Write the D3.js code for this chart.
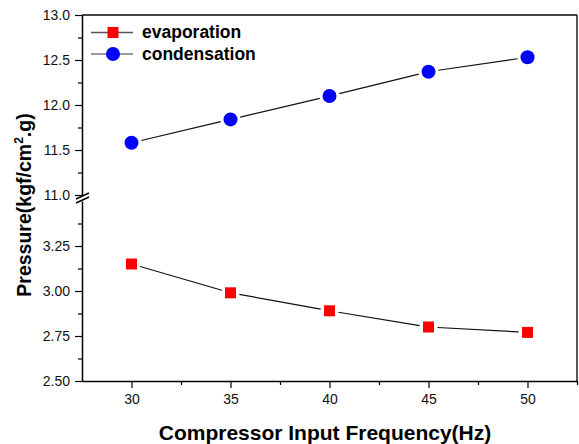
<!DOCTYPE html>
<html>
<head>
<meta charset="utf-8">
<script src="https://cdnjs.cloudflare.com/ajax/libs/d3/7.8.5/d3.min.js"></script>
<style>
	body { margin: 0; background: #fff; }
	svg { display: block; font-family: Arial, "Liberation Sans", sans-serif; }
</style>
</head>
<body>
<svg width="579" height="444"></svg>
<script>
// data
var frequency = [30, 35, 40, 45, 50];
var evaporation = [3.15, 2.99, 2.89, 2.80, 2.77];
var condensation = [11.58, 11.84, 12.10, 12.37, 12.53];
var xTicks = [30, 35, 40, 45, 50];
var topTicks = [11.0, 11.5, 12.0, 12.5, 13.0];
var bottomTicks = [2.50, 2.75, 3.00, 3.25];

var svg = d3.select("svg");
var plotLeft = 82, plotRight = 577, plotTop = 15, plotBottom = 381;

var x = d3.scaleLinear().domain([27.5, 52.5]).range([plotLeft, plotRight]);
var yTop = d3.scaleLinear().domain([11, 13]).range([195, plotTop]);
var yBot = d3.scaleLinear().domain([2.5, 3.5]).range([plotBottom, 201]);

// frame: top and right borders
svg.append("line")
	.attr("x1", plotLeft).attr("x2", plotRight).attr("y1", plotTop).attr("y2", plotTop)
	.attr("stroke", "#444").attr("stroke-width", 2);
svg.append("line")
	.attr("x1", plotRight).attr("x2", plotRight).attr("y1", plotTop).attr("y2", plotBottom)
	.attr("stroke", "#222").attr("stroke-width", 1.5);

// x axis
svg.append("g")
	.attr("transform", "translate(0," + plotBottom + ")")
	.call(d3.axisBottom(x).tickValues(xTicks).tickSizeInner(7).tickSizeOuter(0).tickPadding(6).tickFormat(d3.format("d")));
svg.append("g")
	.attr("transform", "translate(0," + plotBottom + ")")
	.call(d3.axisBottom(x).tickValues([32.5, 37.5, 42.5, 47.5, 52.5]).tickSize(4).tickFormat(""))
	.select(".domain").remove();

// y axis, two segments with a break
function yAxisPart(scale, ticks, minor, fmt) {
	svg.append("g").attr("transform", "translate(" + plotLeft + ",0)")
		.call(d3.axisLeft(scale).tickValues(ticks).tickSizeInner(7).tickSizeOuter(0).tickPadding(5).tickFormat(d3.format(fmt)));
	svg.append("g").attr("transform", "translate(" + plotLeft + ",0)")
		.call(d3.axisLeft(scale).tickValues(minor).tickSize(4).tickFormat(""))
		.select(".domain").remove();
}
yAxisPart(yTop, topTicks, [11.25, 11.75, 12.25, 12.75], ".1f");
yAxisPart(yBot, bottomTicks, [2.625, 2.875, 3.125, 3.375], ".2f");

svg.selectAll(".domain").attr("stroke-width", 1.5);
svg.selectAll(".tick line").attr("stroke-width", 1.2);
svg.selectAll(".tick text").attr("font-size", 14).attr("fill", "#111")
	.attr("font-family", "Arial, 'Liberation Sans', sans-serif");

// break marks
[yTop(11) + 1, yBot(3.5) - 1].forEach(function(yy) {
	svg.append("line")
		.attr("x1", plotLeft - 6).attr("x2", plotLeft + 7)
		.attr("y1", yy + 3).attr("y2", yy - 3)
		.attr("stroke", "#000").attr("stroke-width", 1.5);
});

// connecting lines with gaps around markers
function drawSeries(values, scale, gap) {
	var pts = values.map(function(v, i) { return [x(frequency[i]), scale(v)]; });
	for (var i = 0; i < pts.length - 1; i++) {
		var a = pts[i], b = pts[i + 1];
		var dx = b[0] - a[0], dy = b[1] - a[1];
		var len = Math.sqrt(dx * dx + dy * dy);
		svg.append("line")
			.attr("x1", a[0] + dx / len * gap).attr("y1", a[1] + dy / len * gap)
			.attr("x2", b[0] - dx / len * gap).attr("y2", b[1] - dy / len * gap)
			.attr("stroke", "#111").attr("stroke-width", 1.2);
	}
	return pts;
}

var evPts = drawSeries(evaporation, yBot, 9);
var coPts = drawSeries(condensation, yTop, 10);

svg.selectAll("rect.ev")
	.data(evPts)
	.enter().append("rect")
	.attr("class", "ev")
	.attr("x", function(d) { return d[0] - 5.5; })
	.attr("y", function(d) { return d[1] - 5.5; })
	.attr("width", 11).attr("height", 11)
	.attr("fill", "#ff0000");

svg.selectAll("circle.co")
	.data(coPts)
	.enter().append("circle")
	.attr("class", "co")
	.attr("cx", function(d) { return d[0]; })
	.attr("cy", function(d) { return d[1]; })
	.attr("r", 7)
	.attr("fill", "#0000ff");

// legend
var legend = svg.append("g");
legend.append("line").attr("x1", 91).attr("x2", 133).attr("y1", 32.5).attr("y2", 32.5)
	.attr("stroke", "#555").attr("stroke-width", 1.5);
legend.append("rect").attr("x", 107.5).attr("y", 27).attr("width", 11).attr("height", 11).attr("fill", "#ff0000");
legend.append("text").attr("x", 142).attr("y", 37.5).text("evaporation")
	.attr("font-size", 17.5).attr("font-weight", "bold");
legend.append("line").attr("x1", 91).attr("x2", 133).attr("y1", 54).attr("y2", 54)
	.attr("stroke", "#777").attr("stroke-width", 1.5);
legend.append("circle").attr("cx", 113).attr("cy", 54).attr("r", 7).attr("fill", "#0000ff");
legend.append("text").attr("x", 142).attr("y", 59.5).text("condensation")
	.attr("font-size", 17.5).attr("font-weight", "bold");

// axis titles
svg.append("text")
	.attr("x", 325).attr("y", 440)
	.attr("text-anchor", "middle")
	.attr("font-size", 21).attr("font-weight", "bold")
	.text("Compressor Input Frequency(Hz)");

var yTitle = svg.append("text")
	.attr("transform", "translate(31,205) rotate(-90)")
	.attr("text-anchor", "middle")
	.attr("font-size", 19.5).attr("font-weight", "bold");
yTitle.append("tspan").text("Pressure(kgf/cm");
yTitle.append("tspan").attr("font-size", 12).attr("dy", -8).text("2");
yTitle.append("tspan").attr("dy", 8).text(".g)");
</script>
</body>
</html>
